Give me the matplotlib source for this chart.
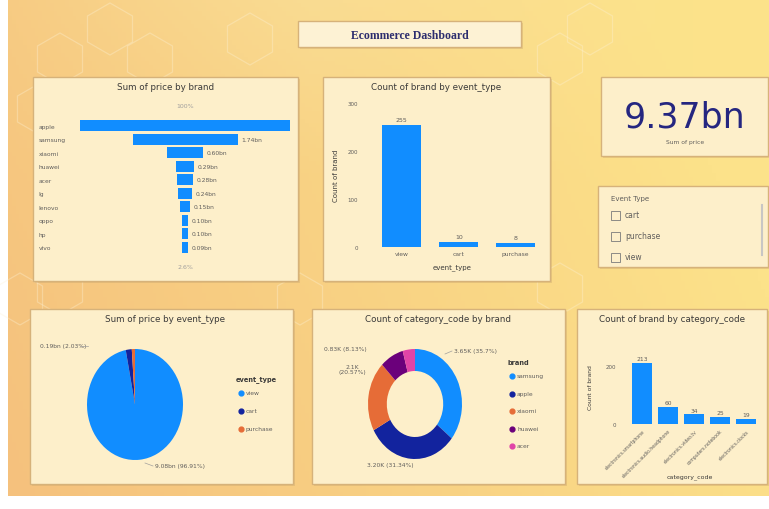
import numpy as np
import matplotlib
matplotlib.use("Agg")
import matplotlib.pyplot as plt
from matplotlib.patches import Rectangle, RegularPolygon

plt.rcParams['font.family'] = ['DejaVu Sans']

# ---------------- data ----------------
brands = ["apple", "samsung", "xiaomi", "huawei", "acer", "lg", "lenovo", "oppo", "hp", "vivo"]
brand_price_bn = [3.48, 1.74, 0.60, 0.29, 0.28, 0.24, 0.15, 0.10, 0.10, 0.09]

event_types = ["view", "cart", "purchase"]
event_counts = [255, 10, 8]
event_ticks = [0, 100, 200, 300]

pie_event_types = ["view", "cart", "purchase"]
pie_price_bn = [9.08, 0.19, 0.10]

donut_brands = ["samsung", "apple", "xiaomi", "huawei", "acer"]
donut_counts_k = [3.65, 3.20, 2.10, 0.83, 0.43]

categories = ["electronics.smartphone", "electronics.audio.headphone",
              "electronics.video.tv", "computers.notebook", "electronics.clocks"]
category_counts = [213, 60, 34, 25, 19]
category_ticks = [0, 200]

kpi_value = "9.37bn"
kpi_label = "Sum of price"
slicer_title = "Event Type"
slicer_items = ["cart", "purchase", "view"]

# ---------------- layout helpers ----------------
W, H = 769, 510
fig = plt.figure(figsize=(W / 100, H / 100), dpi=100)

def box(x0, y0, x1, y1):
    return [x0 / W, 1 - y1 / H, (x1 - x0) / W, (y1 - y0) / H]

BLUE = "#118DFF"
NAVY = "#12239E"
ORANGE = "#E66C37"
PURPLE = "#6B007B"
PINK = "#E044A7"
TXT = "#605E5C"
PANEL = "#fdefca"
EDGE = "#d6b27a"

# background
bg = fig.add_axes([0, 0, 1, 1])
bg.set_xlim(0, W)
bg.set_ylim(H, 0)
bg.axis("off")
xs = np.linspace(0, 1, 200)
ys = np.linspace(0, 1, 120)
X, Y = np.meshgrid(xs, ys)
c_left = np.array([245, 193, 125]) / 255
c_right = np.array([252, 226, 138]) / 255
c_top = np.array([251, 232, 170]) / 255
t = np.clip(X * 0.9 + (1 - Y) * 0.25, 0, 1)[..., None]
img = c_left * (1 - t) + c_right * t
topmix = np.clip(0.35 - Y, 0, 1)[..., None] * np.clip(1 - abs(X - 0.4) * 2, 0, 1)[..., None]
img = img * (1 - topmix) + c_top * topmix
bg.imshow(img, extent=[8, W, 497, 0], aspect="auto", zorder=0)

# faint hexagons
for (hx, hy) in [(60, 60), (110, 30), (150, 60), (40, 110), (250, 40), (560, 60),
                 (590, 30), (20, 300), (60, 290), (300, 300), (560, 290)]:
    bg.add_patch(RegularPolygon((hx, hy), 6, radius=26, fill=False,
                                edgecolor="#fdf2d6", lw=0.9, alpha=0.35, zorder=1))

def panel(x0, y0, x1, y1, fc=PANEL):
    bg.add_patch(Rectangle((x0 + 2, y0 + 2), x1 - x0, y1 - y0, facecolor="#c9a46a",
                           alpha=0.35, edgecolor="none", zorder=2))
    bg.add_patch(Rectangle((x0, y0), x1 - x0, y1 - y0, facecolor=fc,
                           edgecolor=EDGE, lw=1.0, zorder=3))

# title
panel(298, 22, 521, 48, fc="#fdf2d4")
bg.text(410, 36, "Ecommerce Dashboard", ha="center", va="center", fontsize=8.5,
        fontweight="bold", family="Liberation Serif", color="#2d2d6e", zorder=5)

panel(33, 78, 298, 282)
panel(323, 78, 550, 282)
panel(601, 78, 768, 157)
panel(598, 187, 768, 268)
panel(30, 310, 293, 485)
panel(312, 310, 565, 485)
panel(577, 310, 767, 485)

def title(x, y, s):
    bg.text(x, y, s, ha="center", va="center", fontsize=6.3, color="#3b3a39", zorder=5)

title(166, 88, "Sum of price by brand")
title(436, 88, "Count of brand by event_type")
title(165, 320, "Sum of price by event_type")
title(438, 320, "Count of category_code by brand")
title(672, 320, "Count of brand by category_code")

# ---------------- funnel ----------------
ax1 = fig.add_axes(box(80, 120, 290, 255))
ax1.patch.set_alpha(0)
vals = np.array(brand_price_bn)
ypos = np.arange(len(brands))
ax1.barh(ypos, vals, left=-vals / 2, height=0.82, color=BLUE)
ax1.set_xlim(-vals[0] / 2, vals[0] / 2)
ax1.set_ylim(len(brands) - 0.5, -0.5)
ax1.set_yticks(ypos)
ax1.set_yticklabels(brands, fontsize=4.3, color=TXT, ha="left")
ax1.tick_params(axis="y", length=0, pad=30)
ax1.set_xticks([])
for s in ax1.spines.values():
    s.set_visible(False)
for i, v in enumerate(vals):
    if i == 0:
        continue
    ax1.text(v / 2 + 0.06, i, f"{v:.2f}bn", va="center", ha="left", fontsize=4.3, color=TXT)
bg.text(185, 107, "100%", ha="center", va="center", fontsize=4.5, color="#a19f9d", zorder=5)
bg.text(185, 268, f"{vals[-1] / vals[0] * 100:.1f}%", ha="center", va="center",
        fontsize=4.5, color="#a19f9d", zorder=5)

# ---------------- event bar ----------------
ax2 = fig.add_axes(box(362, 104, 543, 248))
ax2.patch.set_alpha(0)
xp = np.arange(len(event_types))
ax2.bar(xp, event_counts, width=0.68, color=BLUE)
ax2.set_xlim(-0.7, 2.48)
ax2.set_ylim(0, event_ticks[-1])
ax2.set_yticks(event_ticks)
ax2.set_yticklabels([str(v) for v in event_ticks], fontsize=4, color=TXT)
ax2.set_xticks(xp)
ax2.set_xticklabels(event_types, fontsize=4.3, color=TXT)
ax2.tick_params(length=0, pad=3)
for s in ax2.spines.values():
    s.set_visible(False)
for x, v in zip(xp, event_counts):
    ax2.text(x, v + 6, str(v), ha="center", va="bottom", fontsize=4.5, color=TXT)
ax2.set_ylabel("Count of brand", fontsize=5, color="#3b3a39", labelpad=6)
ax2.set_xlabel("event_type", fontsize=5, color="#3b3a39", labelpad=5)

# ---------------- KPI ----------------
bg.text(685, 117, kpi_value, ha="center", va="center", fontsize=25, color="#252680", zorder=5)
bg.text(685, 143, kpi_label, ha="center", va="center", fontsize=4.3, color=TXT, zorder=5)

# ---------------- slicer ----------------
bg.text(611, 199, slicer_title, ha="left", va="center", fontsize=5, color=TXT, zorder=5)
for i, item in enumerate(slicer_items):
    yy = 216 + i * 21
    bg.add_patch(Rectangle((611, yy - 4.5), 9, 9, facecolor="none", edgecolor="#7a7a7a",
                           lw=0.6, zorder=5))
    bg.text(625, yy, item, ha="left", va="center", fontsize=5.5, color=TXT, zorder=5)
bg.plot([762, 762], [206, 256], color="#c8c6c4", lw=1.5, zorder=5)

# ---------------- pie ----------------
ax3 = fig.add_axes(box(87, 350, 183, 461))
pv = np.array(pie_price_bn)
pie_colors = [BLUE, NAVY, ORANGE]
ax3.pie(pv, colors=pie_colors, startangle=90, counterclock=False,
        wedgeprops=dict(edgecolor="none"))
ax3.set_aspect("auto")
ax3.set_xlim(-1, 1)
ax3.set_ylim(-1, 1)
pct = pv / pv.sum() * 100
bg.text(40, 347, f"{pv[1]:.2f}bn ({pct[1]:.2f}%)", ha="left", va="center",
        fontsize=4.3, color=TXT, zorder=5)
bg.plot([80, 88], [347, 347], color="#a19f9d", lw=0.5, zorder=5)
bg.text(155, 467, f"{pv[0]:.2f}bn ({pct[0]:.2f}%)", ha="left", va="center",
        fontsize=4.3, color=TXT, zorder=5)
bg.plot([145, 153], [464, 467], color="#a19f9d", lw=0.5, zorder=5)
bg.text(236, 380, "event_type", ha="left", va="center", fontsize=4.8,
        color="#3b3a39", fontweight="bold", zorder=5)
for i, (lab, c) in enumerate(zip(pie_event_types, pie_colors)):
    yy = 394 + i * 18
    bg.scatter([241], [yy], s=12, color=c, zorder=5)
    bg.text(246, yy, lab, ha="left", va="center", fontsize=4.3, color=TXT, zorder=5)

# ---------------- donut ----------------
ax4 = fig.add_axes(box(368, 350, 462, 460))
dv = np.array(donut_counts_k)
donut_colors = [BLUE, NAVY, ORANGE, PURPLE, PINK]
ax4.pie(dv, colors=donut_colors, startangle=90, counterclock=False,
        wedgeprops=dict(width=0.4, edgecolor="none"))
ax4.set_aspect("auto")
ax4.set_xlim(-1, 1)
ax4.set_ylim(-1, 1)
dp = dv / dv.sum() * 100
bg.text(454, 352, f"{dv[0]:.2f}K ({dp[0]:.1f}%)", ha="left", va="center",
        fontsize=4.3, color=TXT, zorder=5)
bg.plot([445, 452], [355, 352], color="#a19f9d", lw=0.5, zorder=5)
bg.text(345, 350, f"{dv[3]:.2f}K ({dp[3]:.2f}%)", ha="center", va="center",
        fontsize=4.3, color=TXT, zorder=5)
bg.text(352, 370, f"{dv[2]:.1f}K\n({dp[2]:.2f}%)", ha="center", va="center",
        fontsize=4.3, color=TXT, zorder=5, linespacing=1.2)
bg.text(390, 466, f"{dv[1]:.2f}K ({dp[1]:.2f}%)", ha="center", va="center",
        fontsize=4.3, color=TXT, zorder=5)
bg.text(507, 363, "brand", ha="left", va="center", fontsize=4.8,
        color="#3b3a39", fontweight="bold", zorder=5)
for i, (lab, c) in enumerate(zip(donut_brands, donut_colors)):
    yy = 377 + i * 17.5
    bg.scatter([512], [yy], s=12, color=c, zorder=5)
    bg.text(517, yy, lab, ha="left", va="center", fontsize=4.3, color=TXT, zorder=5)

# ---------------- category bar ----------------
ax5 = fig.add_axes(box(620, 350, 758, 425))
ax5.patch.set_alpha(0)
cp = np.arange(len(categories))
ax5.bar(cp, category_counts, width=0.77, color=BLUE)
ax5.set_xlim(-0.85, 4.45)
ax5.set_ylim(0, 260)
ax5.set_yticks(category_ticks)
ax5.set_yticklabels([str(v) for v in category_ticks], fontsize=4, color=TXT)
ax5.set_xticks(cp)
ax5.set_xticklabels(categories, fontsize=3.3, color=TXT, rotation=45, ha="right",
                    rotation_mode="anchor")
ax5.tick_params(length=0, pad=3)
for s in ax5.spines.values():
    s.set_visible(False)
for x, v in zip(cp, category_counts):
    ax5.text(x, v + 5, str(v), ha="center", va="bottom", fontsize=4.3, color=TXT)
ax5.set_ylabel("Count of brand", fontsize=4.3, color="#3b3a39", labelpad=9)
bg.text(690, 477, "category_code", ha="center", va="center", fontsize=4.5,
        color="#3b3a39", zorder=5)

fig.savefig("out.png", dpi=100)
